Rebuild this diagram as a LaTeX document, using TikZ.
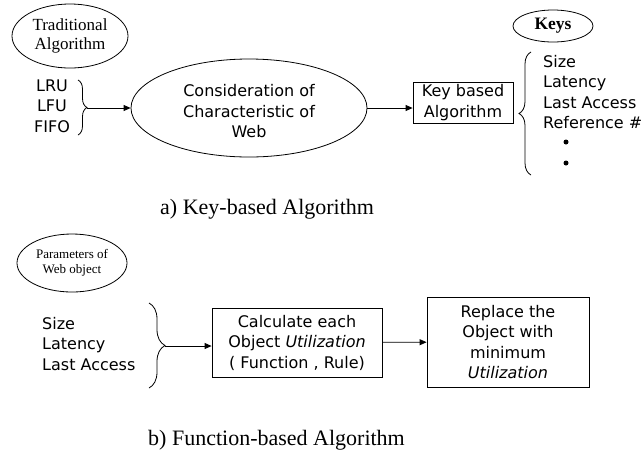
\documentclass[tikz,border=0pt]{standalone}
\usepackage{fontspec}
\setmainfont{Liberation Serif}
\setsansfont{DejaVu Sans}
\usetikzlibrary{positioning,shapes.geometric,arrows.meta,decorations.pathreplacing}

\begin{document}
\begin{tikzpicture}[
    x=1pt, y=-1pt,
    oval/.style={ellipse, draw, line width=0.8pt, inner sep=0pt, align=center},
    box/.style={rectangle, draw, line width=0.8pt, inner sep=0pt, align=center, font=\fontsize{16}{20.5}\selectfont\sffamily},
    items/.style={align=left, inner sep=0pt, anchor=north west, font=\fontsize{16}{20.5}\selectfont\sffamily},
    curly/.style={decorate, decoration={brace, amplitude=#1}, line width=0.8pt},
    arrow/.style={-{Triangle[length=7pt,width=6pt]}, line width=0.8pt},
    caption/.style={anchor=base west, inner sep=0pt, font=\fontsize{22}{26}\selectfont},
    dot/.style={circle, fill, inner sep=0pt, minimum size=5pt}
]
\useasboundingbox (0,0) rectangle (642,451);

% a) Key-based Algorithm
\node[oval, minimum width=116pt, minimum height=64pt, font=\fontsize{17}{19}\selectfont] (trad) at (70,36) {Traditional\\Algorithm};
\node[items, align=center, anchor=center] (oldalg) at (52,106) {LRU\\LFU\\FIFO};
\draw[curly=9pt] (78,80) -- (78,135);
\coordinate (tipA) at (87,108);

\node[oval, minimum width=236pt, minimum height=98pt, font=\fontsize{16}{20.5}\selectfont\sffamily] (web) at (249,108) {\rule{0pt}{19pt}Consideration of\\Characteristic of\\Web};
\node[box, minimum width=100pt, minimum height=41pt] (keyalg) at (463,102.5) {Key based\\Algorithm};

\node[oval, minimum width=80pt, minimum height=32pt, font=\fontsize{17.5}{20}\selectfont\bfseries] (keys) at (553,26) {Keys};
\node[items] (keylist) at (543,55) {Size\\Latency\\Last Access\\Reference \#};
\node[dot] (dot1) at (566,142) {};
\node[dot] (dot2) at (566,163) {};
\draw[curly=12pt] (531,175) -- (531,52);

\draw[arrow] (tipA) -- (web);
\draw[arrow] (web.east) -- (web.east -| keyalg.west);

\node[caption] (capA) at (160,214) {a) Key-based Algorithm};

% b) Function-based Algorithm
\node[oval, minimum width=110pt, minimum height=58pt, font=\fontsize{13}{15}\selectfont] (params) at (72,263) {Parameters of\\Web object};
\node[items] (paramlist) at (42,317) {Size\\Latency\\Last Access};
\draw[curly=16pt] (149,303) -- (149,388);
\coordinate (tipB) at (165,346);

\node[box, minimum width=170pt, minimum height=69pt] (calc) at (297,342.5) {Calculate each\\Object \textit{Utilization}\\( Function , Rule)};
\node[box, minimum width=162pt, minimum height=90pt] (replace) at (508,342) {Replace the\\Object with\\minimum\\\textit{Utilization}};

\draw[arrow] (tipB) -- (tipB -| calc.west);
\draw[arrow] (calc) -- (replace);

\node[caption] (capB) at (148,445) {b) Function-based Algorithm};

\end{tikzpicture}
\end{document}
